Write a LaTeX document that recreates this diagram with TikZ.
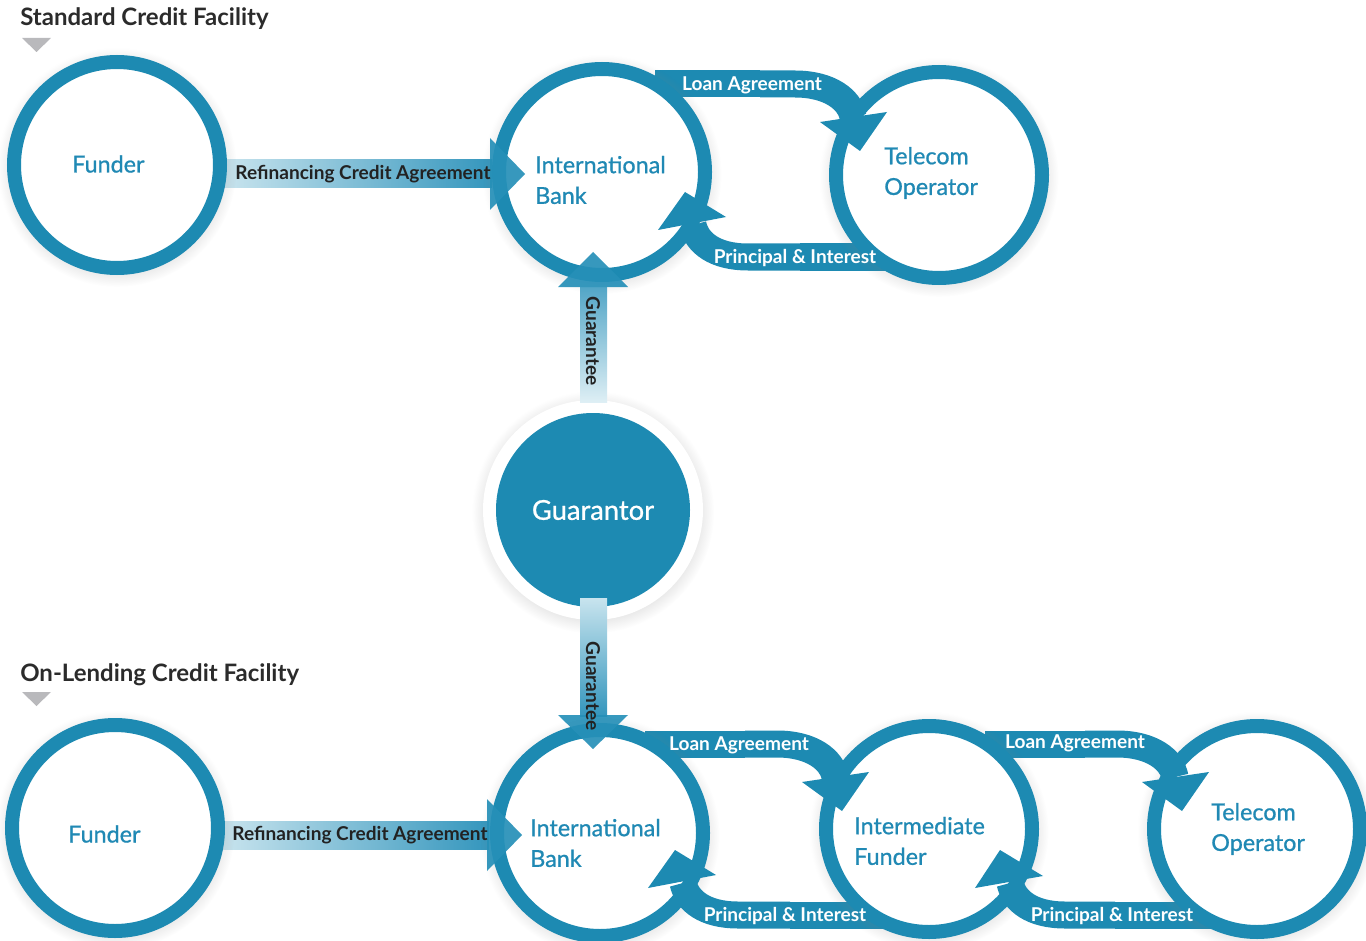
\documentclass[tikz,border=0pt]{standalone}
\usepackage{fontspec}
\setmainfont{Lato}
\newfontfamily\ringfont{Lato}[FakeBold=0.8]
\usetikzlibrary{shadows}
\definecolor{mainblue}{RGB}{29,138,178}
\definecolor{nodeblue}{RGB}{32,137,180}
\definecolor{titlegray}{RGB}{43,43,43}
\definecolor{markgray}{RGB}{185,185,188}
\definecolor{darklabel}{RGB}{34,34,34}
\definecolor{shaftlight}{RGB}{200,228,238}
\definecolor{shaftdark}{RGB}{52,150,189}
\definecolor{headblue}{RGB}{38,144,184}
\begin{document}
\begin{tikzpicture}[x=0.75pt,y=-0.75pt,
  ring/.style={circle, draw=mainblue, line width=10.5pt, fill=white,
    minimum size=154.5pt, inner sep=0pt,
    circular drop shadow={shadow xshift=0pt, shadow yshift=-1.5pt, opacity=.22, shadow scale=1.16}},
  ringtext/.style={anchor=west, text=nodeblue, inner sep=0pt, align=left,
    font=\ringfont\fontsize{17.5}{23}\selectfont},
  band/.style={draw=mainblue, line width=20.25pt},
  bandhead/.style={fill=mainblue, draw=none},
  bandlabel/.style={text=white, font=\bfseries\fontsize{14.3}{16}\selectfont, inner sep=0pt},
  darklab/.style={text=darklabel, font=\bfseries\fontsize{14.3}{16}\selectfont, inner sep=0pt},
  titletext/.style={anchor=base west, text=titlegray, font=\bfseries\fontsize{18}{20}\selectfont, inner sep=0pt},
  titlemark/.style={fill=markgray},
  guarhead/.style={fill=headblue, fill opacity=.92},
]
\useasboundingbox (0,0) rectangle (1366,941);

% titles
\node[titletext] (title1) at (20,26) {Standard Credit Facility};
\fill[titlemark] (22,38) -- (51,38) -- (36.5,52) -- cycle;
\node[titletext] (title2) at (20,681) {On-Lending Credit Facility};
\fill[titlemark] (22,692) -- (51,692) -- (36.5,706) -- cycle;

% band start points and end points
\coordinate (laA0) at (655,84);   \coordinate (laAm) at (760,84);  \coordinate (laA1) at (853,117);
\coordinate (piA0) at (905,257);  \coordinate (piAm) at (800,257); \coordinate (piA1) at (693,225);
\coordinate (laB0) at (645,744);  \coordinate (laBm) at (745,744); \coordinate (laB1) at (835,777);
\coordinate (laC0) at (985,744);  \coordinate (laCm) at (1085,744); \coordinate (laC1) at (1175,777);
\coordinate (piB0) at (890,915);  \coordinate (piBm) at (790,915); \coordinate (piB1) at (683,883);
\coordinate (piC0) at (1215,915); \coordinate (piCm) at (1115,915); \coordinate (piC1) at (1010,883);

% band starts (behind the rings)
\draw[band] (laA0) -- (laAm);
\draw[band] (piA0) -- (piAm);
\draw[band] (laB0) -- (laBm);
\draw[band] (laC0) -- (laCm);
\draw[band] (piB0) -- (piBm);
\draw[band] (piC0) -- (piCm);

% refinancing shafts
\coordinate (rfA1) at (215,160); \coordinate (rfA2) at (492,188);
\shade[left color=shaftlight!90!white, right color=shaftdark] (rfA1) rectangle (rfA2);
\coordinate (rfB1) at (212,821); \coordinate (rfB2) at (489,849);
\shade[left color=shaftlight!90!white, right color=shaftdark] (rfB1) rectangle (rfB2);

% rings
\node[ring] (fundA) at (117,165) {};
\node[ring] (bankA) at (602,172) {};
\node[ring] (telA) at (939,175) {};
\node[ring] (fundB) at (115,828) {};
\node[ring] (bankB) at (600,833) {};
\node[ring] (interB) at (929,829) {};
\node[ring] (telB) at (1257,829) {};

\node[ringtext] (fundAt) at (72,164) {Funder};
\node[ringtext] (bankAt) at (535,180) {International\\Bank};
\node[ringtext] (telAt) at (884,173) {Telecom\\Operator};
\node[ringtext] (fundBt) at (68,834) {Funder};
\node[ringtext] (bankBt) at (530,843) {International\\Bank};
\node[ringtext] (interBt) at (854,841) {Intermediate\\Funder};
\node[ringtext] (telBt) at (1211,829) {Telecom\\Operator};

% band curves (over the rings)
\draw[band] (laAm) -- (795,84) .. controls (830,84) and (850,100) .. (laA1);
\draw[band] (piAm) -- (748,257) .. controls (715,257) and (697,243) .. (piA1);
\draw[band] (laBm) -- (777,744) .. controls (812,744) and (832,760) .. (laB1);
\draw[band] (laCm) -- (1117,744) .. controls (1152,744) and (1172,760) .. (laC1);
\draw[band] (piBm) -- (738,915) .. controls (705,915) and (687,901) .. (piB1);
\draw[band] (piCm) -- (1065,915) .. controls (1032,915) and (1014,901) .. (piC1);

% guarantor
\node[circle, fill=white, minimum size=165pt, inner sep=0pt,
  circular drop shadow={shadow xshift=0pt, shadow yshift=-1.5pt, opacity=.22, shadow scale=1.1}] (guarhalo) at (593,510) {};
\node[circle, fill=mainblue, minimum size=145.5pt, inner sep=0pt, text=white,
  font=\ringfont\fontsize{20.5}{24}\selectfont] (guar) at (593,510) {Guarantor};

% refinancing heads and labels
\fill[guarhead] (490,138) -- (525,174) -- (490,210) -- cycle;
\node[darklab] (rfAlab) at (363,174) {Refinancing Credit Agreement};
\fill[guarhead] (487,799) -- (522,835) -- (487,871) -- cycle;
\node[darklab] (rfBlab) at (360,835) {Refinancing Credit Agreement};

% guarantee arrows
\coordinate (gA1) at (580,287); \coordinate (gA2) at (607,402);
\shade[top color=shaftdark!85!white, bottom color=shaftlight!60!white] (gA1) rectangle (gA2);
\fill[guarhead] (558,287) -- (593,252) -- (628,287) -- cycle;
\node[darklab, rotate=-90] (gAlab) at (593,341) {Guarantee};

\coordinate (gB1) at (580,598); \coordinate (gB2) at (607,716);
\shade[top color=shaftlight, bottom color=shaftdark] (gB1) rectangle (gB2);
\fill[guarhead] (558,715) -- (593,749) -- (628,715) -- cycle;
\node[darklab, rotate=-90] (gBlab) at (593,686) {Guarantee};

% band heads and labels
\fill[bandhead] (820,122) -- (887,112) -- (860,151) -- cycle;
\node[bandlabel] (laAlab) at (752,85) {Loan Agreement};
\fill[bandhead] (685,192) -- (658,230) -- (726,217) -- cycle;
\node[bandlabel] (piAlab) at (795,258) {Principal \& Interest};
\fill[bandhead] (802,782) -- (869,772) -- (842,811) -- cycle;
\node[bandlabel] (laBlab) at (739,745) {Loan Agreement};
\fill[bandhead] (1142,782) -- (1209,772) -- (1182,811) -- cycle;
\node[bandlabel] (laClab) at (1075,743) {Loan Agreement};
\fill[bandhead] (675,850) -- (648,888) -- (716,875) -- cycle;
\node[bandlabel] (piBlab) at (785,916) {Principal \& Interest};
\fill[bandhead] (1000,850) -- (975,888) -- (1043,876) -- cycle;
\node[bandlabel] (piClab) at (1112,916) {Principal \& Interest};
\end{tikzpicture}
\end{document}
